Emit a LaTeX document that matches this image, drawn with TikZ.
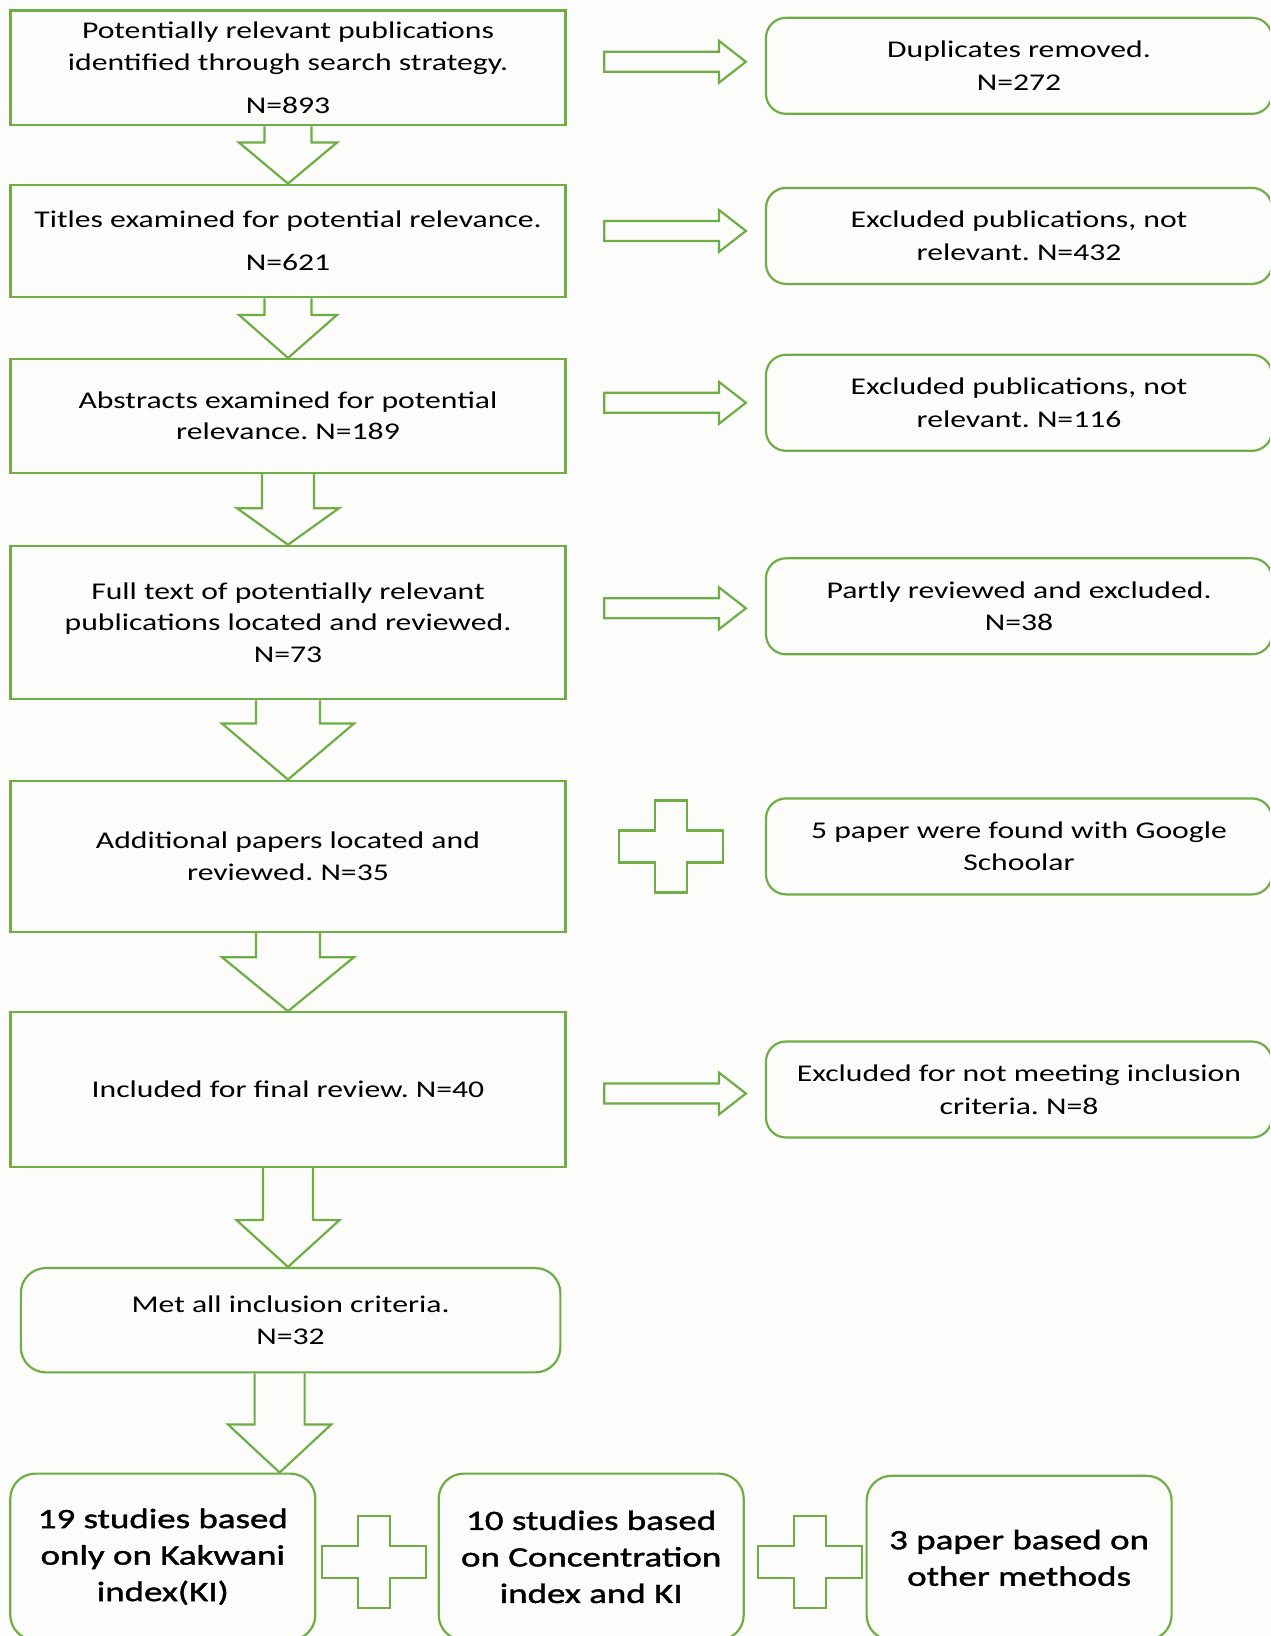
\documentclass[tikz,border=0pt]{standalone}
\usepackage{fontspec}
\setmainfont[FakeStretch=1.32]{Carlito}
\newfontfamily\resultfont[FakeStretch=1.32, FakeBold=1.4]{Carlito}
\frenchspacing
\usetikzlibrary{calc}

\definecolor{boxgreen}{RGB}{112,173,71}
\definecolor{paper}{RGB}{252,252,250}

% hollow block arrows and plus signs
\newcommand{\blockdown}[5]{%
  \draw[blockarrow] let \p1=(#1), \p2=(#2) in
    (\x1-#3,\y1) -- (\x1-#3,\y2+#5) -- (\x1-#4,\y2+#5) -- (\x1,\y2)
    -- (\x1+#4,\y2+#5) -- (\x1+#3,\y2+#5) -- (\x1+#3,\y1);}
\newcommand{\blockright}[3]{%
  \draw[blockarrow] let \p1=(#1.east), \p2=($(#2.west)+(0,#3)$) in
    (\x1+37.6pt,\y2-10pt) -- (\x2-46pt,\y2-10pt) -- (\x2-46pt,\y2-21pt) -- (\x2-19pt,\y2)
    -- (\x2-46pt,\y2+21pt) -- (\x2-46pt,\y2+10pt) -- (\x1+37.6pt,\y2+10pt) -- cycle;}
\newcommand{\plussign}[1]{%
  \draw[blockarrow] #1 ++(-16,-46) -- ++(32,0) -- ++(0,30) -- ++(36,0) -- ++(0,32)
    -- ++(-36,0) -- ++(0,30) -- ++(-32,0) -- ++(0,-30) -- ++(-36,0) -- ++(0,-32)
    -- ++(36,0) -- cycle;}

\begin{document}
\begin{tikzpicture}[
            x=1pt, y=-1pt,
            every node/.style={font=\fontsize{24}{31.3}\selectfont, align=center, text=black},
            stage/.style={rectangle, draw=boxgreen, line width=2.2pt, minimum width=555pt, inner sep=0pt},
            side/.style={rectangle, rounded corners=20pt, draw=boxgreen, line width=2.2pt, minimum width=506pt, minimum height=96pt, inner sep=0pt, font=\fontsize{24}{32.5}\selectfont},
            result/.style={rectangle, rounded corners=25pt, draw=boxgreen, line width=2.2pt, minimum width=305pt, inner sep=0pt, font=\resultfont\fontsize{28}{36.5}\selectfont},
            blockarrow/.style={draw=boxgreen, line width=2.2pt, line join=miter}
        ]

        \useasboundingbox (0,0) rectangle (1270,1636);
        \clip (0,0) rectangle (1270,1636);
        \fill[paper] (0,0) rectangle (1270,1636);

        % main column
        \node[stage, minimum height=114.8pt] (b1) at (288,67.8) {Potentially relevant publications\\identified through search strategy.\\[11.5pt]N=893};
        \node[stage, minimum height=112.7pt] (b2) at (288,241) {Titles examined for potential relevance.\\[11.5pt]N=621};
        \node[stage, minimum height=113.7pt] (b3) at (288,415.9) {Abstracts examined for potential\\relevance. N=189};
        \node[stage, minimum height=153.4pt] (b4) at (288,622.5) {Full text of potentially relevant\\publications located and reviewed.\\N=73};
        \node[stage, minimum height=151.3pt] (b5) at (288,856.3) {Additional papers located and\\reviewed. N=35};
        \node[stage, minimum height=154.4pt] (b6) at (288,1089.5) {Included for final review. N=40};
        \node[stage, rounded corners=25pt, minimum width=539.5pt, minimum height=104.3pt] (b7) at (290.6,1320.2) {Met all inclusion criteria.\\N=32};

        % side boxes
        \node[side] (r1) at (1019,65.8) {Duplicates removed.\\N=272};
        \node[side] (r2) at (1019,235.9) {Excluded publications, not\\relevant. N=432};
        \node[side] (r3) at (1019,402.8) {Excluded publications, not\\relevant. N=116};
        \node[side] (r4) at (1019,606.3) {Partly reviewed and excluded.\\N=38};
        \node[side] (r5) at (1019,846.4) {5 paper were found with Google\\Schoolar};
        \node[side] (r6) at (1019,1089.5) {Excluded for not meeting inclusion\\criteria. N=8};

        % results row
        \node[result, minimum height=166.4pt] (c1) at (162.8,1556.8) {19 studies based\\only on Kakwani\\index(KI)};
        \node[result, minimum height=166.4pt] (c2) at (591.2,1556.8) {10 studies based\\on Concentration\\index and KI};
        \node[result, minimum height=164.3pt] (c3) at (1019.1,1557.9) {3 paper based on\\other methods};

        \blockdown{b1.south}{b2.north}{23.5pt}{49pt}{41pt}
        \blockdown{b2.south}{b3.north}{23.5pt}{49pt}{43pt}
        \blockdown{b3.south}{b4.north}{26pt}{51pt}{36.5pt}
        \blockdown{b4.south}{b5.north}{32pt}{66pt}{56pt}
        \blockdown{b5.south}{b6.north}{32pt}{66pt}{54pt}
        \blockdown{b6.south}{b7.north}{25pt}{51.6pt}{47pt}
        \coordinate (d7) at ($(b7.south)+(-11,0)$);
        \blockdown{d7}{c1.north}{25pt}{51.6pt}{48pt}

        \blockright{b1}{r1}{-4}
        \blockright{b2}{r2}{-5}
        \blockright{b3}{r3}{0}
        \blockright{b4}{r4}{2}
        \blockright{b6}{r6}{4}

        \plussign{(671,846.4)}
        \plussign{($(c1.east)!0.5!(c2.west)+(-3,5)$)}
        \plussign{($(c2.east)!0.5!(c3.west)+(5,5)$)}

    \end{tikzpicture}
\end{document}
